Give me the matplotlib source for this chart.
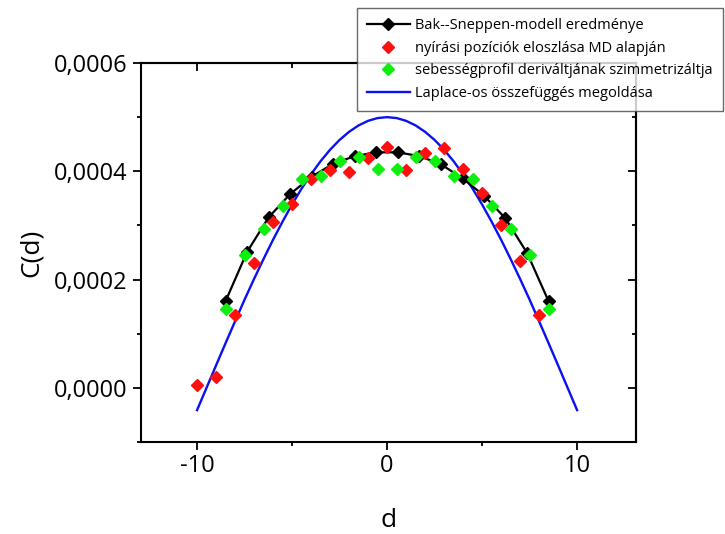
import matplotlib
matplotlib.use("Agg")
import matplotlib.pyplot as plt
from matplotlib.ticker import MultipleLocator, FuncFormatter

plt.rcParams['font.family'] = ['Open Sans', 'DejaVu Sans']

# Bak--Sneppen model result (black line + diamonds)
bs_d = [-8.5, -7.37, -6.23, -5.1, -3.97, -2.83, -1.7, -0.567,
        0.567, 1.7, 2.83, 3.97, 5.1, 6.23, 7.37, 8.5]
bs_c = [0.000160, 0.000251, 0.000315, 0.000358, 0.000390, 0.000414, 0.000428, 0.000435,
        0.000435, 0.000428, 0.000413, 0.000387, 0.000355, 0.000313, 0.000249, 0.000160]

# shear positions from MD (red)
md_d = [-10, -9, -8, -7, -6, -5, -4, -3, -2, -1, 0, 1, 2, 3, 4, 5, 6, 7, 8]
md_c = [0.000005, 0.000020, 0.000134, 0.000231, 0.000306, 0.000339, 0.000385, 0.000402,
        0.000399, 0.000425, 0.000445, 0.000402, 0.000433, 0.000443, 0.000405, 0.000359,
        0.000301, 0.000234, 0.000134]

# symmetrized derivative of velocity profile (green)
vp_d = [-8.5, -7.5, -6.5, -5.5, -4.5, -3.5, -2.5, -1.5, -0.5,
        0.5, 1.5, 2.5, 3.5, 4.5, 5.5, 6.5, 7.5, 8.5]
vp_c = [0.000146, 0.000246, 0.000293, 0.000336, 0.000386, 0.000391, 0.000419, 0.000426, 0.000404,
        0.000404, 0.000426, 0.000419, 0.000391, 0.000386, 0.000336, 0.000293, 0.000246, 0.000146]

# Laplace solution (blue curve), read at half-unit steps
lp_d = [-10, -9.5, -9, -8.5, -8, -7.5, -7, -6.5, -6, -5.5, -5, -4.5, -4, -3.5, -3, -2.5,
        -2, -1.5, -1, -0.5, 0, 0.5, 1, 1.5, 2, 2.5, 3, 3.5, 4, 4.5, 5, 5.5, 6, 6.5,
        7, 7.5, 8, 8.5, 9, 9.5, 10]
lp_c = [-0.0000411, 0.0000002, 0.0000415, 0.0000825, 0.0001229, 0.0001630, 0.0002012,
        0.0002381, 0.0002736, 0.0003071, 0.0003387, 0.0003680, 0.0003946, 0.0004186,
        0.0004398, 0.0004579, 0.0004729, 0.0004847, 0.0004932, 0.0004983, 0.0005000,
        0.0004983, 0.0004932, 0.0004847, 0.0004729, 0.0004579, 0.0004398, 0.0004186,
        0.0003946, 0.0003680, 0.0003387, 0.0003071, 0.0002736, 0.0002381, 0.0002012,
        0.0001630, 0.0001229, 0.0000825, 0.0000415, 0.0000002, -0.0000411]

labels = ["Bak--Sneppen-modell eredménye",
          "nyírási pozíciók eloszlása MD alapján",
          "sebességprofil deriváltjának szimmetrizáltja",
          "Laplace-os összefüggés megoldása"]

fig = plt.figure(figsize=(7.25, 5.34), dpi=100)
ax = fig.add_axes([141/725, 92/534, 495/725, 379/534])

ms = 6.4
ax.plot(lp_d, lp_c, color='#0a10f0', lw=1.7, label=labels[3], zorder=2)
ax.plot(bs_d, bs_c, color='black', lw=1.6, marker='D', ms=ms, label=labels[0], zorder=3)
ax.plot(md_d, md_c, ls='none', color='#ff1010', marker='D', ms=ms, label=labels[1], zorder=4)
ax.plot(vp_d, vp_c, ls='none', color='#10ee10', marker='D', ms=ms, label=labels[2], zorder=5)

ax.set_xlim(-12.95, 13.1)
ax.set_ylim(-0.0001, 0.0006)

ax.xaxis.set_major_locator(MultipleLocator(10))
ax.xaxis.set_minor_locator(MultipleLocator(5))
ax.yaxis.set_major_locator(MultipleLocator(0.0002))
ax.yaxis.set_minor_locator(MultipleLocator(0.0001))
ax.yaxis.set_major_formatter(FuncFormatter(lambda v, p: f"{v:.4f}".replace('.', ',').replace('-0,0000', '0,0000')))
ax.xaxis.set_major_formatter(FuncFormatter(lambda v, p: f"{v:.0f}"))

for s in ax.spines.values():
    s.set_linewidth(1.5)

ax.tick_params(which='major', direction='out', length=6, width=1.3, labelsize=17, pad=3)
ax.tick_params(which='minor', direction='out', length=3, width=1.3)
ax.tick_params(axis='y', which='major', pad=4)

secx = ax.secondary_xaxis('top')
secx.xaxis.set_major_locator(MultipleLocator(10))
secx.xaxis.set_minor_locator(MultipleLocator(5))
secx.tick_params(which='major', direction='in', length=6, width=1.3, labeltop=False)
secx.tick_params(which='minor', direction='in', length=3.5, width=1.3)
secx.spines['top'].set_linewidth(1.5)

secy = ax.secondary_yaxis('right')
secy.yaxis.set_major_locator(MultipleLocator(0.0002))
secy.yaxis.set_minor_locator(MultipleLocator(0.0001))
secy.tick_params(which='major', direction='in', length=6, width=1.3, labelright=False)
secy.tick_params(which='minor', direction='in', length=3, width=1.3)
secy.spines['right'].set_linewidth(1.5)

ax.set_xlabel("d", fontsize=19, labelpad=21)
ax.set_ylabel("C(d)", fontsize=19, labelpad=7)

handles, labs = ax.get_legend_handles_labels()
order = [labs.index(l) for l in labels]
leg = ax.legend([handles[i] for i in order], [labs[i] for i in order],
                loc='upper left', bbox_to_anchor=(357/725, 1 - 8/534),
                bbox_transform=fig.transFigure, fontsize=10.5, frameon=True,
                fancybox=False, edgecolor='#444444', handlelength=2.9,
                handletextpad=0.4, labelspacing=0.52, borderpad=0.7,
                borderaxespad=0)
leg.get_frame().set_linewidth(1.0)
leg.set_zorder(10)

fig.savefig("out.png", dpi=100)
